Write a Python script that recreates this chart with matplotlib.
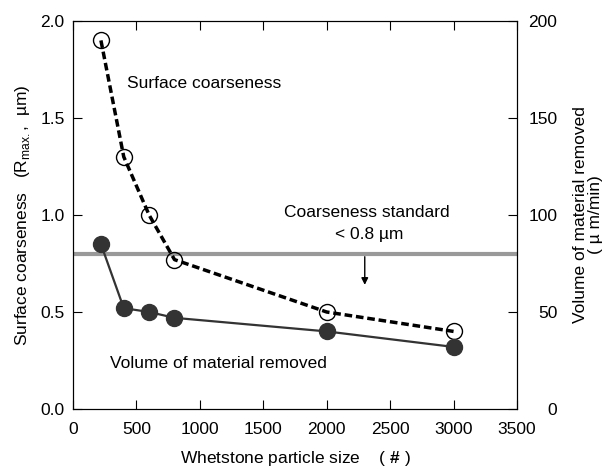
import matplotlib
matplotlib.use("Agg")
import matplotlib.pyplot as plt

plt.rcParams['font.family'] = ['Liberation Sans', 'DejaVu Sans']
plt.rcParams['mathtext.fontset'] = 'custom'
plt.rcParams['mathtext.rm'] = 'Liberation Sans'
plt.rcParams['mathtext.bf'] = 'Liberation Sans:bold'
plt.rcParams['font.size'] = 12.5

# particle sizes (#)
grit = [220, 400, 600, 800, 2000, 3000]
# surface coarseness Rmax (um), left axis
coarse = [1.90, 1.30, 1.00, 0.77, 0.50, 0.40]
# material removed (um/min), right axis
removed = [85, 52, 50, 47, 40, 32]
standard = 0.8

fig = plt.figure(figsize=(6.05, 4.69), dpi=100)
ax1 = fig.add_axes([0.1207, 0.1279, 0.7338, 0.8273])
ax2 = ax1.twinx()

ax1.axhline(standard, color='#999999', lw=3, zorder=1)
ax1.plot(grit, coarse, color='black', lw=2.5, ls=(0, (2.2, 1.1)), zorder=2)
ax1.plot(grit, coarse, ls='none', marker='o', ms=11.5, mfc='none', mec='black', mew=1, zorder=3)

ax2.plot(grit, removed, color='#333333', lw=1.6, marker='o', ms=11.5, mfc='#333333', mec='#333333')

ax1.set_xlim(0, 3500)
ax1.set_ylim(0, 2.0)
ax2.set_ylim(0, 200)
ax1.set_xticks(range(0, 3501, 500))
ax1.set_yticks([0, 0.5, 1.0, 1.5, 2.0])
ax1.set_yticklabels(['0.0', '0.5', '1.0', '1.5', '2.0'])
ax2.set_yticks([0, 50, 100, 150, 200])

ax1.tick_params(axis='x', direction='in', top=True, length=6.5, pad=9)
ax1.tick_params(axis='y', direction='in', length=6.5, pad=6)
ax2.tick_params(axis='y', direction='in', length=6.5, pad=29)
for lab in ax2.get_yticklabels():
    lab.set_horizontalalignment('right')

ax1.set_xlabel(r'Whetstone particle size    ( $\mathbf{\#}$ )', labelpad=9)
ax1.set_ylabel(r'Surface coarseness   (R$_{\mathrm{max.}}$,  µm)', labelpad=6)
ax2.set_ylabel('Volume of material removed\n( µ m/min)', linespacing=1.0)
ax2.yaxis.set_label_coords(1.126, 0.5)

ax1.text(425, 1.68, 'Surface coarseness', ha='left', va='center')
ax1.text(292, 0.235, 'Volume of material removed', ha='left', va='center')
ax1.text(2315, 1.015, 'Coarseness standard', ha='center', va='center')
ax1.text(2335, 0.9, '< 0.8 µm', ha='center', va='center')
ax1.annotate('', xy=(2300, 0.64), xytext=(2300, 0.785),
             arrowprops=dict(arrowstyle='-|>', color='black', lw=1,
                             mutation_scale=10, shrinkA=0, shrinkB=0))

fig.savefig('out.png', dpi=100)
